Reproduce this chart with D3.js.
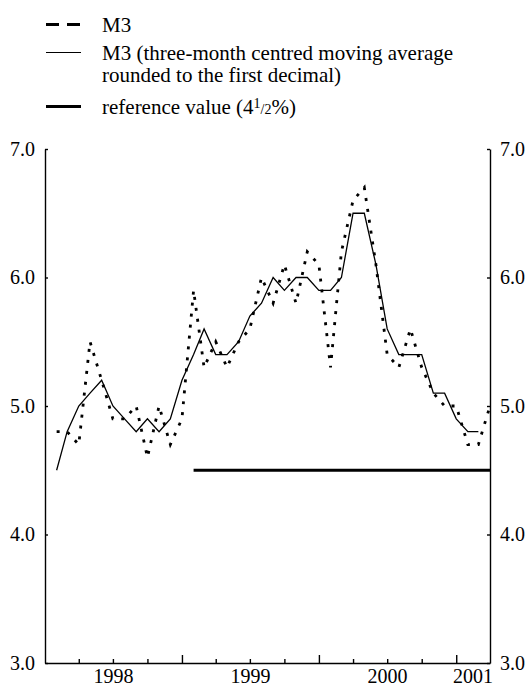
<!DOCTYPE html>
<html>
<head>
<meta charset="utf-8">
<script src="https://cdn.jsdelivr.net/npm/d3@7"></script>
<style>
  html, body { margin: 0; padding: 0; background: #fff; }
  svg { display: block; }
  text { font-family: "Liberation Serif", "Times New Roman", serif; fill: #000; }
</style>
</head>
<body>
<svg id="chart" width="528" height="688"></svg>
<script>
// ---- data ----
const months = [
  "1998-01","1998-02","1998-03","1998-04","1998-05","1998-06","1998-07","1998-08","1998-09","1998-10","1998-11","1998-12",
  "1999-01","1999-02","1999-03","1999-04","1999-05","1999-06","1999-07","1999-08","1999-09","1999-10","1999-11","1999-12",
  "2000-01","2000-02","2000-03","2000-04","2000-05","2000-06","2000-07","2000-08","2000-09","2000-10","2000-11","2000-12",
  "2001-01","2001-02","2001-03"
];
const m3 = [
  4.8, 4.8, 4.7, 5.5, 5.2, 4.9, 4.9, 5.0, 4.6, 5.0, 4.7, 4.9,
  5.9, 5.3, 5.5, 5.3, 5.5, 5.6, 6.0, 5.8, 6.1, 5.8, 6.2, 6.1,
  5.3, 6.2, 6.6, 6.7, 6.1, 5.4, 5.3, 5.6, 5.3, 5.1, 5.0, 5.0,
  4.7, 4.7, 5.0
];
const m3avg = [
  4.5, 4.8, 5.0, 5.1, 5.2, 5.0, 4.9, 4.8, 4.9, 4.8, 4.9, 5.2,
  5.4, 5.6, 5.4, 5.4, 5.5, 5.7, 5.8, 6.0, 5.9, 6.0, 6.0, 5.9,
  5.9, 6.0, 6.5, 6.5, 6.1, 5.6, 5.4, 5.4, 5.4, 5.1, 5.1, 4.9,
  4.8, 4.8
];
const refMonths = ["1999-01", "2001-03"];
const refValue = 4.5;
const yTicks = [3.0, 4.0, 5.0, 6.0, 7.0];
const years = ["1998", "1999", "2000", "2001"];
const legendLabels = ["M3", "M3 (three-month centred moving average", "rounded to the first decimal)", "reference value (4"];

// ---- scales ----
const parseM = d3.timeParse("%Y-%m");
const domainStart = parseM("1998-01"), domainEnd = parseM("2001-04");
const x = d3.scaleTime().domain([domainStart, domainEnd]).range([45, 490]);
const y = d3.scaleLinear().domain([3, 7]).range([663, 149]);
// each monthly value plotted at month end
const xm = m => x(d3.timeMonth.offset(parseM(m), 1));

const svg = d3.select("#chart");

// ---- axes ----
const quarters = d3.timeMonth.every(3).range(d3.timeMonth.offset(domainStart, 1), domainEnd);
const xAxis = svg.append("g").attr("transform", "translate(0,663)")
  .call(d3.axisBottom(x).tickValues(quarters).tickSize(-4).tickSizeOuter(0).tickFormat(""));
xAxis.selectAll(".tick line")
  .attr("y2", d => d.getMonth() === 0 ? -8 : -4);
xAxis.selectAll("line, path").attr("stroke", "#000").attr("stroke-width", 1.4);

const yLeft = svg.append("g").attr("transform", "translate(45,0)")
  .call(d3.axisLeft(y).tickValues(yTicks).tickSize(-3).tickSizeOuter(0).tickPadding(10).tickFormat(d3.format(".1f")));
const yRight = svg.append("g").attr("transform", "translate(490,0)")
  .call(d3.axisRight(y).tickValues(yTicks).tickSize(-3).tickSizeOuter(0).tickPadding(10).tickFormat(d3.format(".1f")));
[yLeft, yRight].forEach(g => {
  g.selectAll("line, path").attr("stroke", "#000").attr("stroke-width", 1.4);
  g.selectAll("text").attr("font-size", 20).attr("font-family", "Liberation Serif").attr("fill", "#000");
});

// year labels centered in their visible span
svg.append("g").selectAll("text").data(years).join("text")
  .attr("x", yr => {
    const a = d3.max([parseM(yr + "-01"), domainStart]);
    const b = d3.min([parseM((+yr + 1) + "-01"), domainEnd]);
    return (x(a) + x(b)) / 2;
  })
  .attr("y", 683)
  .attr("text-anchor", "middle")
  .attr("font-size", 20)
  .text(d => d);

// ---- reference line ----
svg.append("line")
  .attr("x1", xm(refMonths[0])).attr("x2", xm(refMonths[1]))
  .attr("y1", y(refValue)).attr("y2", y(refValue))
  .attr("stroke", "#000").attr("stroke-width", 3);

// ---- series ----
const line = d3.line().x(d => xm(d[0])).y(d => y(d[1]));
svg.append("path")
  .datum(m3avg.map((v, i) => [months[i], v]))
  .attr("d", line).attr("fill", "none").attr("stroke", "#000").attr("stroke-width", 1.3)
  .attr("stroke-linejoin", "miter");
svg.append("path")
  .datum(m3.map((v, i) => [months[i], v]))
  .attr("d", line).attr("fill", "none").attr("stroke", "#000").attr("stroke-width", 2.8)
  .attr("stroke-dasharray", "3,8");

// ---- legend ----
const lg = svg.append("g");
const lx0 = 46, lx1 = 81, tx = 102;
lg.append("line").attr("x1", lx0).attr("x2", lx1).attr("y1", 24.5).attr("y2", 24.5)
  .attr("stroke", "#000").attr("stroke-width", 2.8).attr("stroke-dasharray", "13,8");
lg.append("line").attr("x1", lx0).attr("x2", lx1).attr("y1", 52.5).attr("y2", 52.5)
  .attr("stroke", "#000").attr("stroke-width", 1.2);
lg.append("line").attr("x1", lx0).attr("x2", lx1).attr("y1", 106.5).attr("y2", 106.5)
  .attr("stroke", "#000").attr("stroke-width", 3);
lg.append("text").attr("x", tx).attr("y", 31.5).attr("font-size", 21).text(legendLabels[0]);
lg.append("text").attr("x", tx).attr("y", 60).attr("font-size", 21).text(legendLabels[1]);
lg.append("text").attr("x", tx).attr("y", 82).attr("font-size", 21).text(legendLabels[2]);
const rt = lg.append("text").attr("x", tx).attr("y", 114).attr("font-size", 21);
rt.append("tspan").text(legendLabels[3]);
rt.append("tspan").attr("font-size", 14).attr("dy", -6).text("1");
rt.append("tspan").attr("font-size", 14).attr("dy", 6).text("/2");
rt.append("tspan").text("%)");
</script>
</body>
</html>
